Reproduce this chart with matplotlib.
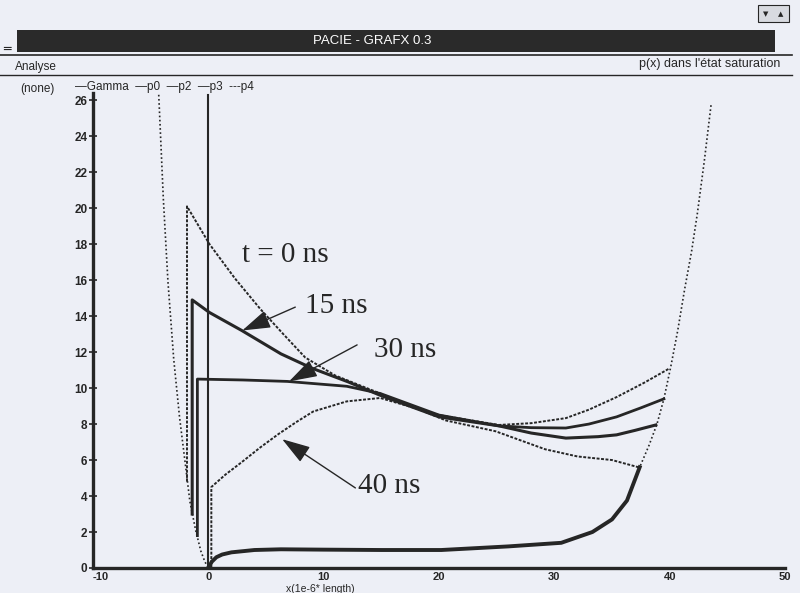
import numpy as np
import matplotlib.pyplot as plt
from matplotlib.patches import Rectangle

plt.rcParams['axes.unicode_minus'] = False

# données (x en 1e-6 * length)
x_mur_g = [-4.3, -3.9, -3.5, -3.0, -2.5, -2.0, -1.6, -1.1, -0.65, -0.3, 0.0]
y_mur_g = [26.3, 20.5, 15.9, 11.6, 8.4, 5.8, 3.7, 2.1, 0.94, 0.35, 0.0]

x_mur_d = [36.3, 37.4, 38.2, 38.9, 39.5, 40.1, 40.7, 41.3, 41.9, 42.4, 43.0, 43.6]
y_mur_d = [3.75, 5.6, 6.8, 8.0, 9.4, 11.2, 13.2, 15.5, 17.6, 19.7, 22.6, 25.8]

x_gamma = [0.0, 0.3, 0.7, 1.2, 2.0, 4.0, 6.3, 10.0, 15.0, 20.2, 26.0, 30.6, 33.3, 35.0, 36.3, 37.4]
y_gamma = [0.0, 0.35, 0.6, 0.75, 0.87, 1.0, 1.04, 1.02, 1.0, 1.0, 1.2, 1.4, 2.0, 2.7, 3.75, 5.6]

x_p0 = [-1.85, -1.85, 0.1, 2.3, 4.5, 6.5, 8.4, 11.0, 14.9, 20.6, 24.9, 29.2, 32.0, 35.0, 37.3]
y_p0 = [4.8, 20.1, 18.0, 16.1, 14.4, 13.0, 11.7, 10.7, 9.7, 8.2, 7.6, 6.6, 6.2, 6.0, 5.6]

x_p2 = [-1.4, -1.4, 0.1, 2.9, 6.3, 9.0, 12.1, 14.9, 20.0, 25.2, 28.0, 31.0, 33.8, 35.4, 37.0, 38.8]
y_p2 = [3.0, 14.9, 14.2, 13.2, 11.9, 11.1, 10.35, 9.6, 8.4, 7.9, 7.5, 7.22, 7.3, 7.4, 7.65, 7.95]

x_p3 = [-0.95, -0.95, 3.0, 6.85, 12.0, 14.9, 20.0, 25.2, 28.0, 31.0, 33.0, 35.4, 37.5, 39.5]
y_p3 = [1.8, 10.5, 10.45, 10.37, 10.1, 9.7, 8.5, 7.9, 7.8, 7.78, 8.0, 8.4, 8.9, 9.4]

x_p4 = [0.26, 0.26, 1.5, 2.85, 4.5, 6.07, 7.6, 9.1, 12.0, 14.9, 20.0, 25.2, 28.0, 31.0, 33.0, 35.4, 37.8, 40.0]
y_p4 = [0.0, 4.5, 5.2, 5.86, 6.7, 7.44, 8.1, 8.7, 9.26, 9.45, 8.5, 7.95, 8.05, 8.33, 8.8, 9.5, 10.3, 11.1]

y_ticks = list(range(0, 27, 2))
x_ticks = [-10, 0, 10, 20, 30, 40, 50]

fond = '#edeff6'
encre = '#262626'
etroit = ['Liberation Sans Narrow', 'Liberation Sans', 'DejaVu Sans']
sans = ['Liberation Sans', 'DejaVu Sans']
serif = ['Liberation Serif', 'DejaVu Serif']

fig = plt.figure(figsize=(8, 5.93), dpi=100, facecolor=fond)

# barre de titre et menu
fig.patches.append(Rectangle((17 / 800, 1 - 52 / 593), 758 / 800, 22 / 593, transform=fig.transFigure,
                             facecolor='#2a2a2a', edgecolor='none'))
fig.text(0.465, 1 - 41 / 593, 'PACIE - GRAFX 0.3', color='white', ha='center', va='center',
         fontsize=9.5, family=etroit)
fig.lines.append(plt.Line2D([0.0, 0.99], [1 - 55 / 593, 1 - 55 / 593], transform=fig.transFigure,
                            color=encre, lw=1.2))
fig.lines.append(plt.Line2D([0.0, 0.99], [1 - 75 / 593, 1 - 75 / 593], transform=fig.transFigure,
                            color=encre, lw=1.0))
fig.text(0.004, 1 - 49 / 593, '\u2550', fontsize=9, color=encre, va='center')
fig.patches.append(Rectangle((0.948, 1 - 22 / 593), 0.038, 17 / 593, transform=fig.transFigure,
                             facecolor='#d8dae0', edgecolor=encre, lw=0.8))
fig.text(0.957, 1 - 14 / 593, '\u25BC', fontsize=5, color=encre, ha='center', va='center')
fig.text(0.976, 1 - 14 / 593, '\u25B2', fontsize=5, color=encre, ha='center', va='center')

fig.text(0.019, 1 - 67 / 593, 'Analyse', fontsize=8.5, color=encre, va='center', family=sans)
fig.text(0.976, 1 - 64 / 593, "p(x) dans l'état saturation", fontsize=9, color=encre,
         ha='right', va='center', family=sans)
fig.text(0.025, 1 - 89 / 593, '(none)', fontsize=8.5, color=encre, va='center', family=sans)
fig.text(0.094, 1 - 87 / 593, '\u2014Gamma  \u2014p0  \u2014p2  \u2014p3  ---p4', fontsize=8.5,
         color=encre, va='center', family=sans)

ax = fig.add_axes([93 / 800, 25 / 593, 692 / 800, 475 / 593])
ax.set_facecolor('none')

ax.plot(x_mur_g, y_mur_g, color=encre, lw=1.2, ls=(0, (1, 1.5)))
ax.plot(x_mur_d, y_mur_d, color=encre, lw=1.2, ls=(0, (1, 1.5)))
ax.plot([0, 0], [0, 26.3], color=encre, lw=1.5)
ax.plot(x_gamma, y_gamma, color=encre, lw=2.8, label='Gamma')
ax.plot(x_p0, y_p0, color=encre, lw=1.4, ls=(0, (1.5, 0.8)), label='p0')
ax.plot(x_p2, y_p2, color=encre, lw=2.2, label='p2')
ax.plot(x_p3, y_p3, color=encre, lw=2.0, label='p3')
ax.plot(x_p4, y_p4, color=encre, lw=1.4, ls=(0, (1.5, 0.8)), label='p4')

txt = dict(fontsize=21, family=serif, color=encre)
ax.text(2.9, 17.0, 't = 0 ns', **txt)
ax.text(8.4, 14.2, '15 ns', **txt)
ax.text(14.4, 11.7, '30 ns', **txt)
ax.text(13.0, 4.15, '40 ns', **txt)

fleche = dict(arrowstyle='-|>,head_length=1.1,head_width=0.35', color=encre, lw=1.0,
              mutation_scale=16, shrinkA=0, shrinkB=0)
ax.annotate('', xy=(2.94, 13.2), xytext=(7.54, 14.5), arrowprops=fleche)
ax.annotate('', xy=(7.0, 10.37), xytext=(12.9, 12.4), arrowprops=fleche)
ax.annotate('', xy=(6.4, 7.16), xytext=(12.75, 4.45), arrowprops=fleche)

ax.set_xlim(-10, 50)
ax.set_ylim(0, 26.4)
ax.set_xticks(x_ticks)
ax.set_yticks(y_ticks)
ax.tick_params(axis='y', direction='inout', length=6, width=1.2, labelsize=8.5, pad=1, colors=encre)
ax.tick_params(axis='x', length=0, labelsize=8, pad=3, colors=encre)
for lab in ax.get_xticklabels() + ax.get_yticklabels():
    lab.set_family(etroit)
    lab.set_fontweight('bold')
ax.get_xticklabels()[0].set_horizontalalignment('left')
for s in ['top', 'right']:
    ax.spines[s].set_visible(False)
for s in ['left', 'bottom']:
    ax.spines[s].set_linewidth(2.4)
    ax.spines[s].set_color(encre)

fig.text(320 / 800, 1 - 588.5 / 593, 'x(1e-6* length)', fontsize=7.5, color=encre, ha='center',
         va='center', family=etroit)

fig.savefig('out.png', dpi=100, facecolor=fond)
